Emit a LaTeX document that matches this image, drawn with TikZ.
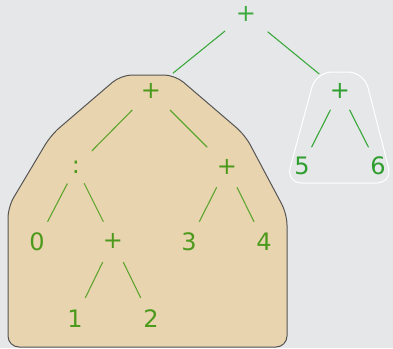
\documentclass[tikz,border=0pt]{standalone}
\usepackage{fontspec}
\setmainfont{DejaVu Sans}
\usetikzlibrary{calc}
\definecolor{bgc}{RGB}{230,231,233}
\definecolor{tanc}{RGB}{233,212,176}
\definecolor{outc}{RGB}{85,85,85}
\definecolor{topg}{RGB}{61,170,61}
\definecolor{ing}{RGB}{76,154,28}
\definecolor{inl}{RGB}{95,165,47}
\definecolor{rg}{RGB}{46,158,46}
\definecolor{rl}{RGB}{56,168,56}
\tikzset{
  lbl/.style={font=\fontsize{24}{24}\selectfont, inner sep=0pt},
  edgeline/.style={line width=1.1pt}
}
\begin{document}
\begin{tikzpicture}[x=1pt,y=-1pt]
\fill[bgc] (0,0) rectangle (393,348);
\useasboundingbox (0,0) rectangle (393,348);
% tan region
\draw[fill=tanc, draw=outc, line width=1pt, rounded corners=11pt]
  (147,347) -- (287,347) -- (287,214) -- (245,135) -- (175,75) -- (121,75)
  -- (51,135) -- (8,207) -- (8,347) -- cycle;
% white rounded trapezoid
\draw[white, line width=1pt, rounded corners=16pt]
  (340,183) -- (392.5,183) -- (364,72) -- (316,72) -- (286,183) -- cycle;
% nodes
\node[lbl, text=topg] (r) at (246,14) {+};
\node[lbl, text=ing] (a) at (151,91) {+};
\node[lbl, text=rg] (b) at (340,91) {+};
\node[lbl, text=ing] (c) at (76,167) {:};
\node[lbl, text=ing] (d) at (227,167) {+};
\node[lbl, text=ing] (e) at (37,242) {0};
\node[lbl, text=ing] (f) at (113,241) {+};
\node[lbl, text=ing] (g) at (189,242) {3};
\node[lbl, text=ing] (h) at (264,242) {4};
\node[lbl, text=ing] (i) at (75,319) {1};
\node[lbl, text=ing] (j) at (151,319) {2};
\node[lbl, text=rg] (k) at (302,166) {5};
\node[lbl, text=rg] (l) at (378,166) {6};
% edges
\draw[edgeline, topg] ($(r)!0.22!(a)$) -- ($(a)!0.23!(r)$);
\draw[edgeline, topg] ($(r)!0.23!(b)$) -- ($(b)!0.22!(r)$);
\draw[edgeline, inl] ($(a)!0.25!(c)$) -- ($(c)!0.21!(a)$);
\draw[edgeline, inl] ($(a)!0.25!(d)$) -- ($(d)!0.26!(a)$);
\draw[edgeline, inl] ($(c)!0.22!(e)$) -- ($(e)!0.27!(c)$);
\draw[edgeline, inl] ($(c)!0.22!(f)$) -- ($(f)!0.26!(c)$);
\draw[edgeline, inl] ($(d)!0.27!(g)$) -- ($(g)!0.27!(d)$);
\draw[edgeline, inl] ($(d)!0.27!(h)$) -- ($(h)!0.27!(d)$);
\draw[edgeline, inl] ($(f)!0.27!(i)$) -- ($(i)!0.27!(f)$);
\draw[edgeline, inl] ($(f)!0.27!(j)$) -- ($(j)!0.27!(f)$);
\draw[edgeline, rl] ($(b)!0.25!(k)$) -- ($(k)!0.25!(b)$);
\draw[edgeline, rl] ($(b)!0.25!(l)$) -- ($(l)!0.25!(b)$);
\end{tikzpicture}
\end{document}
